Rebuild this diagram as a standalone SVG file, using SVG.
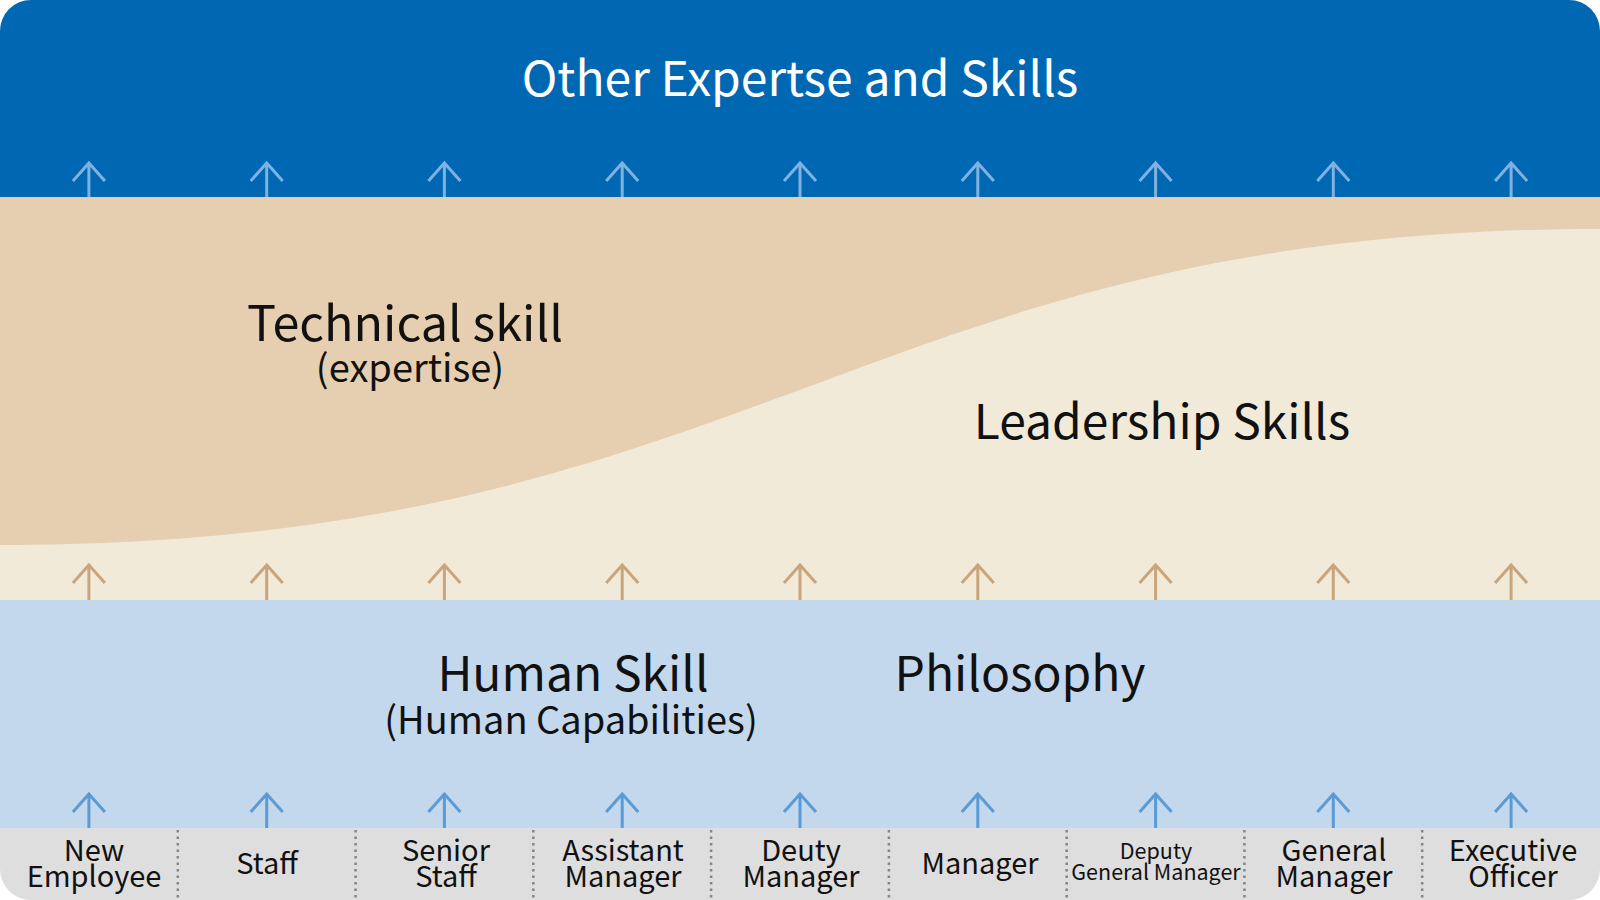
<svg xmlns="http://www.w3.org/2000/svg" width="1600" height="900" viewBox="0 0 1600 900">
<defs>
<clipPath id="frame"><rect x="0" y="0" width="1600" height="900" rx="31" ry="31"/></clipPath>
<style>
.t{font-family:"Noto Sans CJK JP","Noto Sans",sans-serif;text-anchor:middle;fill:#111}
.w{fill:#fff}
.big{font-size:48px}
.sub{font-size:38px}
.lv{font-size:29px}
.lvs{font-size:21.5px}
.a{fill:none;stroke-width:3;stroke-linejoin:miter}
.a1{stroke:#7FB1E2}
.a2{stroke:#C9A57B}
.a3{stroke:#5A9BD6}
.div{stroke:#858585;stroke-width:2.5;stroke-dasharray:2.5 4}
</style>
</defs>
<g clip-path="url(#frame)">
<g id="other">
<rect x="0" y="0" width="1600" height="198" fill="#0068B2"/>
<text class="t w big" x="800" y="96">Other Expertse and Skills</text>
</g>
<g id="leadership">
<rect x="0" y="197" width="1600" height="404" fill="#F2EAD9"/>
<text class="t big" x="1162" y="439">Leadership Skills</text>
</g>
<g id="technical">
<path d="M0,197 H1600 V229 C860,229 760,545 0,545 Z" fill="#E5CFB0"/>
<text class="t big" x="405" y="341" style="font-size:48.5px">Technical skill</text>
<text class="t sub" x="410" y="382">(expertise)</text>
</g>
<g id="human">
<rect x="0" y="600" width="1600" height="229" fill="#C3D8EC"/>
<text class="t big" x="573" y="691">Human Skill</text>
<text class="t sub" x="571" y="734">(Human Capabilities)</text>
</g>
<g id="philosophy">
<text class="t big" x="1020" y="691">Philosophy</text>
</g>
<g id="levels">
<rect x="0" y="828" width="1600" height="72" fill="#DEDEDE"/>
<g>
<line class="div" x1="177.8" y1="830" x2="177.8" y2="900"/>
<line class="div" x1="355.6" y1="830" x2="355.6" y2="900"/>
<line class="div" x1="533.3" y1="830" x2="533.3" y2="900"/>
<line class="div" x1="711.1" y1="830" x2="711.1" y2="900"/>
<line class="div" x1="888.9" y1="830" x2="888.9" y2="900"/>
<line class="div" x1="1066.7" y1="830" x2="1066.7" y2="900"/>
<line class="div" x1="1244.4" y1="830" x2="1244.4" y2="900"/>
<line class="div" x1="1422.2" y1="830" x2="1422.2" y2="900"/>
</g>
<g id="lv-new"><text class="t lv" x="94" y="861">New</text><text class="t lv" x="94" y="887">Employee</text></g>
<g id="lv-staff"><text class="t lv" x="267" y="874">Staff</text></g>
<g id="lv-senior"><text class="t lv" x="446" y="861">Senior</text><text class="t lv" x="446" y="887">Staff</text></g>
<g id="lv-asst"><text class="t lv" x="623" y="861">Assistant</text><text class="t lv" x="623" y="887">Manager</text></g>
<g id="lv-deputy"><text class="t lv" x="801" y="861">Deuty</text><text class="t lv" x="801" y="887">Manager</text></g>
<g id="lv-manager"><text class="t lv" x="980" y="874">Manager</text></g>
<g id="lv-dgm"><text class="t lvs" x="1156" y="859">Deputy</text><text class="t lvs" x="1156" y="880">General Manager</text></g>
<g id="lv-gm"><text class="t lv" x="1334" y="861">General</text><text class="t lv" x="1334" y="887">Manager</text></g>
<g id="lv-exec"><text class="t lv" x="1513" y="861">Executive</text><text class="t lv" x="1513" y="887">Officer</text></g>
</g>
<g id="connectors">
<path class="a a1" d="M88.9,197V163M72.9,181L88.9,163L104.9,181 M266.7,197V163M250.7,181L266.7,163L282.7,181 M444.4,197V163M428.4,181L444.4,163L460.4,181 M622.2,197V163M606.2,181L622.2,163L638.2,181 M800,197V163M784,181L800,163L816,181 M977.8,197V163M961.8,181L977.8,163L993.8,181 M1155.6,197V163M1139.6,181L1155.6,163L1171.6,181 M1333.3,197V163M1317.3,181L1333.3,163L1349.3,181 M1511.1,197V163M1495.1,181L1511.1,163L1527.1,181"/>
<path class="a a2" d="M88.9,600V565M72.9,583L88.9,565L104.9,583 M266.7,600V565M250.7,583L266.7,565L282.7,583 M444.4,600V565M428.4,583L444.4,565L460.4,583 M622.2,600V565M606.2,583L622.2,565L638.2,583 M800,600V565M784,583L800,565L816,583 M977.8,600V565M961.8,583L977.8,565L993.8,583 M1155.6,600V565M1139.6,583L1155.6,565L1171.6,583 M1333.3,600V565M1317.3,583L1333.3,565L1349.3,583 M1511.1,600V565M1495.1,583L1511.1,565L1527.1,583"/>
<path class="a a3" d="M88.9,828V794M72.9,812L88.9,794L104.9,812 M266.7,828V794M250.7,812L266.7,794L282.7,812 M444.4,828V794M428.4,812L444.4,794L460.4,812 M622.2,828V794M606.2,812L622.2,794L638.2,812 M800,828V794M784,812L800,794L816,812 M977.8,828V794M961.8,812L977.8,794L993.8,812 M1155.6,828V794M1139.6,812L1155.6,794L1171.6,812 M1333.3,828V794M1317.3,812L1333.3,794L1349.3,812 M1511.1,828V794M1495.1,812L1511.1,794L1527.1,812"/>
</g>
</g>
</svg>
